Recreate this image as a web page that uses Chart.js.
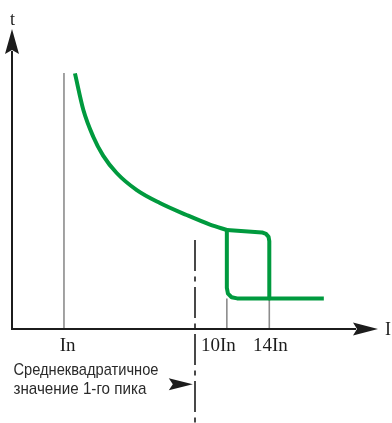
<!DOCTYPE html>
<html>
<head>
<meta charset="utf-8">
<script src="https://cdn.jsdelivr.net/npm/chart.js@4/dist/chart.umd.min.js"></script>
<style>
html,body{margin:0;padding:0;background:#fff;}
#wrap{width:392px;height:423px;position:relative;}
</style>
</head>
<body>
<div id="wrap"><canvas id="c" width="392" height="423"></canvas></div>
<script>
// ---- data (schematic units: current on x, time on y) ----
const axisTitleX = 'I';
const axisTitleY = 't';
const tickValues = [14.2, 58.7, 70.3];          // In, 10In, 14In
const tickLabels = ['In', '10In', '14In'];
const tickLabelPos = [15.2, 56.4, 70.6];

const curveX = [17.2, 19.5, 22.2, 24.9, 28.6, 34.1, 40.4, 47.7, 54.1, 58.7];
const curveY = [85.2, 73.0, 64.1, 57.8, 52.0, 46.3, 42.0, 38.0, 34.8, 33.0];

const upperX = [58.7, 68.3, 69.4, 70.1, 70.3, 70.3];
const upperY = [33.0, 32.2, 31.7, 30.7, 29.3, 10.2];

const lowerX = [58.7, 58.7, 59.0, 60.0, 61.5, 85.2];
const lowerY = [33.0, 13.7, 11.8, 10.6, 10.2, 10.2];

const refTops = [85.3, 10.2, 10.2];   // tops of the thin reference lines at In, 10In, 14In

const peakX = 50.0;                   // RMS value of first peak
const peakYRange = [29.7, -31.3];
const noteLines = ['Среднеквадратичное', 'значение 1-го пика'];

const toPts = (xs, ys) => xs.map((x, i) => ({x, y: ys[i]}));

const GREEN = '#009a3e';
const GREY = '#8c8c8c';
const INK = '#1c1c1c';

const refSets = tickValues.map((v, i) => ({
  data: [{x: v, y: 0}, {x: v, y: refTops[i]}],
  borderColor: GREY, borderWidth: 1.6, pointRadius: 0, order: 5, tension: 0
}));

const decor = {
  id: 'decor',
  afterDatasetsDraw(chart) {
    const ctx = chart.ctx;
    const xs = chart.scales.x, ys = chart.scales.y;
    const X = v => xs.getPixelForValue(v), Y = v => ys.getPixelForValue(v);
    const x0 = X(0), y0 = Y(0);
    const xEnd = X(100), yEnd = Y(100);
    ctx.save();
    ctx.strokeStyle = INK; ctx.fillStyle = INK; ctx.lineWidth = 2;
    // axes
    ctx.beginPath();
    ctx.moveTo(x0, y0); ctx.lineTo(xEnd - 22, y0);
    ctx.moveTo(x0, y0 + 1); ctx.lineTo(x0, yEnd + 22);
    ctx.stroke();
    // arrowheads
    function head(tx, ty, dx, dy, len, half) {
      const px = -dy, py = dx;
      ctx.beginPath();
      ctx.moveTo(tx, ty);
      ctx.lineTo(tx - dx*len + px*half, ty - dy*len + py*half);
      ctx.lineTo(tx - dx*(len-4), ty - dy*(len-4));
      ctx.lineTo(tx - dx*len - px*half, ty - dy*len - py*half);
      ctx.closePath();
      ctx.fill();
    }
    head(xEnd, y0, 1, 0, 25, 6.5);
    head(x0, yEnd, 0, -1, 25, 7);
    // annotation arrow
    head(X(49.4), Y(-18.4), 1, 0, 24, 6);
    // axis titles
    ctx.font = '18px "Liberation Serif", "DejaVu Serif", serif';
    ctx.textAlign = 'center'; ctx.textBaseline = 'alphabetic';
    ctx.fillText(axisTitleY, x0 + 0.5, Y(103.5) + 6);
    ctx.textAlign = 'left';
    ctx.fillText(axisTitleX, X(101.9), y0 + 6);
    // tick labels
    ctx.font = '19px "Liberation Serif", "DejaVu Serif", serif';
    ctx.textAlign = 'center';
    tickLabels.forEach((t, i) => ctx.fillText(t, X(tickLabelPos[i]), Y(-7.3)));
    // note text
    ctx.fillStyle = '#2a2a2a';
    ctx.textAlign = 'left';
    ctx.font = '17px "Liberation Sans Narrow", "Liberation Sans", Arial, sans-serif';
    const targets = [145, 133];
    const bases = [-15.3, -21.5];
    noteLines.forEach((t, i) => {
      const w = ctx.measureText(t).width;
      const s = targets[i] / w;
      ctx.save();
      ctx.translate(X(0.4), Y(bases[i]));
      ctx.scale(s, 1);
      ctx.fillText(t, 0, 0);
      ctx.restore();
    });
    ctx.restore();
  }
};

new Chart(document.getElementById('c'), {
  type: 'scatter',
  data: {
    datasets: [
      ...refSets,
      { data: [{x: peakX, y: peakYRange[0]}, {x: peakX, y: peakYRange[1]}],
        borderColor: INK, borderWidth: 1.6, borderDash: [31, 5.5, 5, 5.5],
        pointRadius: 0, clip: false, order: 4 },
      { data: toPts(curveX, curveY), borderColor: GREEN, borderWidth: 4,
        pointRadius: 0, cubicInterpolationMode: 'monotone', borderJoinStyle: 'round', order: 1 },
      { data: toPts(upperX, upperY), borderColor: GREEN, borderWidth: 4,
        pointRadius: 0, tension: 0, borderJoinStyle: 'round', order: 1 },
      { data: toPts(lowerX, lowerY), borderColor: GREEN, borderWidth: 4,
        pointRadius: 0, tension: 0, borderJoinStyle: 'round', order: 1 }
    ].map(d => Object.assign({showLine: true}, d))
  },
  options: {
    responsive: false,
    animation: false,
    events: [],
    layout: { padding: { left: 12, right: 14, top: 29, bottom: 94 } },
    scales: {
      x: { type: 'linear', min: 0, max: 100, display: false },
      y: { type: 'linear', min: 0, max: 100, display: false }
    },
    plugins: { legend: { display: false }, tooltip: { enabled: false } }
  },
  plugins: [decor]
});
</script>
</body>
</html>
